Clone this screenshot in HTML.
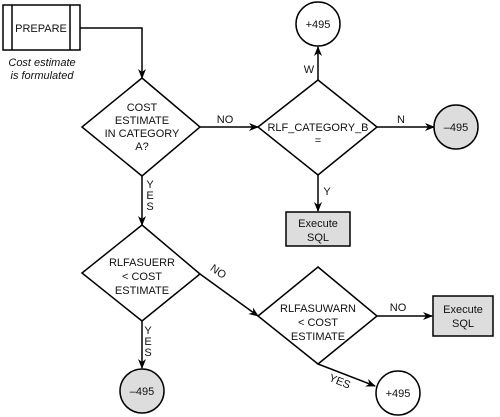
<!DOCTYPE html>
<html><head><style>body{margin:0;background:#fff}svg{display:block}text{font-family:"Liberation Sans",sans-serif;font-size:11px;fill:#111}</style></head>
<body>
<svg width="500" height="417" viewBox="0 0 500 417">
<defs><marker id="a" markerWidth="10" markerHeight="10" refX="9" refY="5" orient="auto" markerUnits="userSpaceOnUse"><path d="M0,1 L10,5 L0,9 L3,5 Z" fill="#000"/></marker></defs>
<g stroke="#000" stroke-width="1.5" fill="none">
<rect x="3" y="5" width="77" height="45" fill="#fff"/>
<line x1="12" y1="5" x2="12" y2="50"/><line x1="70" y1="5" x2="70" y2="50"/>
<path d="M80,28 H142 V78" marker-end="url(#a)"/>
<polygon points="142,78 200,127 142,176 82,127" fill="#fff"/>
<line x1="200" y1="127" x2="258" y2="127" marker-end="url(#a)"/>
<polygon points="318,80 377,127 318,175 258,127" fill="#fff"/>
<line x1="318" y1="80" x2="318" y2="47" marker-end="url(#a)"/>
<circle cx="318" cy="24" r="22" fill="#fff"/>
<line x1="377" y1="127" x2="434" y2="127" marker-end="url(#a)"/>
<circle cx="456" cy="127" r="22" fill="#ddd"/>
<line x1="318" y1="175" x2="318" y2="211" marker-end="url(#a)"/>
<rect x="286" y="212" width="64" height="34" fill="#ddd"/>
<line x1="142" y1="176" x2="142" y2="225" marker-end="url(#a)"/>
<polygon points="142,225 200,274 142,321 82,273" fill="#fff"/>
<line x1="200" y1="274" x2="258" y2="316" marker-end="url(#a)"/>
<polygon points="318,267 377,316 318,364 258,316" fill="#fff"/>
<line x1="377" y1="316" x2="432" y2="316" marker-end="url(#a)"/>
<rect x="433" y="296" width="60" height="40" fill="#ddd"/>
<line x1="142" y1="321" x2="142" y2="368" marker-end="url(#a)"/>
<circle cx="142" cy="391" r="22" fill="#ddd"/>
<line x1="318" y1="364" x2="375" y2="386" marker-end="url(#a)"/>
<circle cx="398" cy="393" r="22" fill="#fff"/>
</g>
<g text-anchor="middle">
<text x="41" y="32">PREPARE</text>
<text x="42" y="66" font-style="italic">Cost estimate</text>
<text x="42" y="79" font-style="italic">is formulated</text>
<text x="142" y="111">COST</text><text x="142" y="124">ESTIMATE</text><text x="142" y="137">IN CATEGORY</text><text x="142" y="150">A?</text>
<text x="225" y="123">NO</text>
<text x="318" y="131">RLF_CATEGORY_B</text><text x="318" y="144">=</text>
<text x="318" y="28">+495</text>
<text x="309" y="73">W</text>
<text x="401" y="123">N</text>
<text x="456" y="131">–495</text>
<text x="327" y="195">Y</text>
<text x="318" y="227">Execute</text><text x="318" y="241">SQL</text>
<text x="150" y="188">Y</text><text x="150" y="199">E</text><text x="150" y="210">S</text>
<text x="142" y="266">RLFASUERR</text><text x="142" y="280">&lt; COST</text><text x="142" y="294">ESTIMATE</text>
<text x="218" y="275" transform="rotate(35 218 272)">NO</text>
<text x="318" y="312">RLFASUWARN</text><text x="318" y="326">&lt; COST</text><text x="318" y="340">ESTIMATE</text>
<text x="398" y="311">NO</text>
<text x="463" y="313">Execute</text><text x="463" y="327">SQL</text>
<text x="148" y="334">Y</text><text x="148" y="345">E</text><text x="148" y="356">S</text>
<text x="142" y="395">–495</text>
<text x="340" y="385" transform="rotate(22 340 381)">YES</text>
<text x="398" y="397">+495</text>
</g>
</svg>
</body></html>
